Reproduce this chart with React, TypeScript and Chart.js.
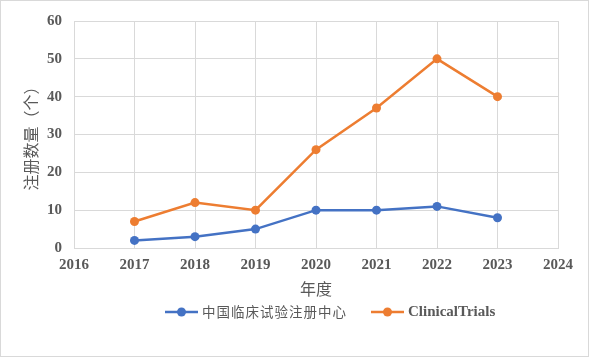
import React, { useEffect, useRef } from "react";
import { Chart, registerables } from "chart.js";

Chart.register(...registerables);

const years = [2017, 2018, 2019, 2020, 2021, 2022, 2023];
const chinaRegistry = [2, 3, 5, 10, 10, 11, 8];
const clinicalTrials = [7, 12, 10, 26, 37, 50, 40];
const seriesNames = ["中国临床试验注册中心", "ClinicalTrials"];
const xTitle = "年度";
const yTitle = "注册数量（个）";

const BLUE = "#4472C4";
const ORANGE = "#ED7D31";
const GRID = "#d9d9d9";
const TEXT = "#595959";
const SERIF = "'Liberation Serif', 'Times New Roman', serif";
const CJK = "'Noto Sans CJK SC', 'Noto Sans', sans-serif";

const legendPlugin = {
  id: "lineLegend",
  afterDraw(chart: any) {
    const ctx = chart.ctx;
    const y = 312;
    let x = 165;
    ctx.save();
    chart.data.datasets.forEach((ds: any) => {
      ctx.strokeStyle = ds.borderColor;
      ctx.lineWidth = 2.5;
      ctx.beginPath();
      ctx.moveTo(x, y);
      ctx.lineTo(x + 33, y);
      ctx.stroke();
      ctx.fillStyle = ds.borderColor;
      ctx.beginPath();
      ctx.arc(x + 16.5, y, 4.5, 0, Math.PI * 2);
      ctx.fill();
      const isLatin = /^[A-Za-z]/.test(ds.label);
      ctx.font = isLatin ? `bold 15px ${SERIF}` : `13.5px ${CJK}`;
      (ctx as any).letterSpacing = isLatin ? "0px" : "1px";
      ctx.fillStyle = TEXT;
      ctx.textBaseline = "middle";
      ctx.textAlign = "left";
      ctx.fillText(ds.label, x + 37, y);
      const w = ctx.measureText(ds.label).width;
      (ctx as any).letterSpacing = "0px";
      x = x + 37 + w + 24;
    });
    ctx.restore();
  },
};

export default function App() {
  const ref = useRef<HTMLCanvasElement | null>(null);

  useEffect(() => {
    if (!ref.current) return;
    const chart = new Chart(ref.current, {
      type: "line",
      data: {
        datasets: [
          {
            label: seriesNames[0],
            data: years.map((yr, i) => ({ x: yr, y: chinaRegistry[i] })),
            borderColor: BLUE,
            backgroundColor: BLUE,
            borderWidth: 2.5,
            pointRadius: 4.5,
            pointHoverRadius: 4.5,
            pointBorderWidth: 0,
            tension: 0,
          },
          {
            label: seriesNames[1],
            data: years.map((yr, i) => ({ x: yr, y: clinicalTrials[i] })),
            borderColor: ORANGE,
            backgroundColor: ORANGE,
            borderWidth: 2.5,
            pointRadius: 4.5,
            pointHoverRadius: 4.5,
            pointBorderWidth: 0,
            tension: 0,
          },
        ],
      },
      options: {
        responsive: false,
        animation: false,
        layout: { padding: { top: 18, right: 33, left: 0, bottom: 0 } },
        plugins: { legend: { display: false }, tooltip: { enabled: false } },
        scales: {
          x: {
            type: "linear",
            min: 2016,
            max: 2024,
            ticks: {
              stepSize: 1,
              color: TEXT,
              padding: 8,
              font: { family: SERIF, size: 15, weight: "bold" },
              callback: (v: any) => String(v),
            },
            grid: { color: GRID, lineWidth: 1, drawTicks: false },
            border: { color: GRID, width: 1 },
            title: {
              display: true,
              text: xTitle,
              color: TEXT,
              font: { family: CJK, size: 16 },
              padding: { top: 0, bottom: 58 },
            },
            afterFit: (scale: any) => {
              scale.height = 109;
            },
          },
          y: {
            min: 0,
            max: 60,
            ticks: {
              stepSize: 10,
              color: TEXT,
              padding: 12,
              font: { family: SERIF, size: 15, weight: "bold" },
            },
            grid: { color: GRID, lineWidth: 1, drawTicks: false },
            border: { color: GRID, width: 1 },
            title: {
              display: true,
              text: yTitle,
              color: TEXT,
              font: { family: CJK, size: 16 },
              padding: { top: 21, bottom: 0 },
            },
            afterFit: (scale: any) => {
              scale.width = 74;
            },
          },
        },
      },
      plugins: [legendPlugin],
    } as any);
    return () => chart.destroy();
  }, []);

  return (
    <div
      style={{
        position: "fixed",
        left: 0,
        top: 0,
        width: 591,
        height: 357,
        background: "#fff",
      }}
    >
      <canvas ref={ref} width={591} height={357} style={{ display: "block" }} />
      <div
        style={{
          position: "absolute",
          left: 0,
          top: 0,
          width: 587,
          height: 355,
          border: "1px solid #d9d9d9",
          pointerEvents: "none",
        }}
      />
    </div>
  );
}
